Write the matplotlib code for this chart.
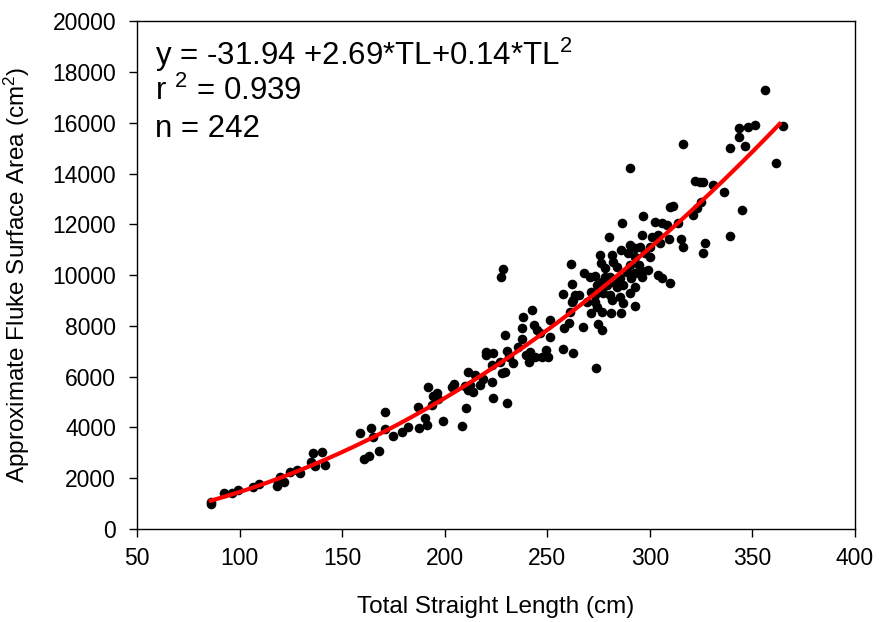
import numpy as np
import matplotlib
matplotlib.use("Agg")
import matplotlib.pyplot as plt

plt.rcParams["font.family"] = ["Liberation Sans", "DejaVu Sans"]
plt.rcParams["mathtext.fontset"] = "custom"
plt.rcParams["mathtext.rm"] = "Liberation Sans"
plt.rcParams["mathtext.it"] = "Liberation Sans:italic"

# total straight length (cm) and approximate fluke surface area (cm^2)
tl = [86.0, 86.3, 92.4, 96.2, 99.4, 106.7, 109.6, 118.1, 118.7, 119.7, 121.6, 124.6, 127.8, 129.5,
      134.8, 135.6, 136.8, 140.0, 141.6, 158.7, 160.5, 163.0, 164.9, 163.9, 168.0, 170.9, 170.9,
      175.0, 179.0, 182.3, 187.1, 187.5, 190.4, 191.2, 191.7, 193.6, 194.4, 196.3, 196.9, 199.3,
      203.4, 204.5, 208.3, 209.9, 210.4, 211.2, 211.5, 212.3, 213.9, 214.8, 217.2, 218.8, 220.1,
      220.1, 222.9, 222.9, 223.4, 223.7, 226.9, 227.3, 227.8, 228.3, 229.4, 229.4, 230.5, 230.5,
      231.4, 233.4, 235.9, 237.5, 237.5, 238.3, 239.9, 241.2, 241.6, 242.4, 243.5, 244.0, 244.8,
      246.5, 247.3, 249.4, 250.5, 251.3, 251.3, 257.8, 257.8, 258.0, 260.7, 261.1, 261.6, 261.9,
      261.9, 262.7, 262.7, 263.5, 265.5, 267.5, 267.9, 269.2, 270.8, 271.6, 271.6, 273.3, 273.3,
      273.3, 273.6, 274.1, 274.1, 274.8, 275.7, 276.0, 276.5, 276.5, 276.8, 277.4, 278.1, 278.1,
      279.0, 280.2, 280.6, 280.6, 280.9, 281.4, 281.4, 282.2, 282.2, 283.8, 283.8, 285.5, 285.5,
      285.8, 285.9, 286.7, 287.0, 287.0, 288.7, 289.5, 290.3, 290.3, 290.3, 290.6, 291.1, 292.8,
      292.8, 292.8, 292.8, 292.9, 294.9, 295.2, 296.0, 296.0, 296.0, 296.8, 297.6, 299.3, 300.1,
      300.1, 300.9, 302.5, 304.1, 304.1, 305.0, 305.8, 305.8, 308.2, 309.5, 309.8, 309.8, 311.1,
      313.8, 315.0, 316.0, 316.0, 321.1, 322.0, 322.8, 324.4, 325.2, 326.1, 326.1, 326.9, 330.9,
      336.3, 339.0, 339.1, 343.3, 343.3, 345.2, 346.4, 348.0, 351.3, 356.3, 361.5, 364.8]
area = [1080, 1000, 1420, 1400, 1530, 1640, 1770, 1690, 1860, 2040, 1850, 2260, 2320, 2200,
        2650, 3000, 2480, 3030, 2520, 3800, 2750, 2880, 3640, 3960, 3080, 4620, 3920,
        3670, 3830, 4030, 4820, 3960, 4360, 4090, 5580, 4880, 5240, 5370, 5110, 4250,
        5580, 5700, 4060, 5640, 4750, 6190, 5470, 5670, 5410, 6060, 5670, 5890, 6980,
        6850, 6460, 5800, 5140, 6940, 6590, 9910, 6130, 10220, 7640, 6190, 7020, 4970,
        6780, 6520, 7180, 7900, 7470, 8330, 6850, 6590, 6980, 8620, 8030, 6780, 7830,
        7700, 6780, 7050, 6780, 8230, 7550, 9250, 7070, 7900, 8120, 8560, 10430, 9630,
        8950, 9020, 6940, 9210, 9210, 7940, 10070, 8950, 9930, 9340, 8490, 9960, 9210,
        8950, 6330, 9610, 8750, 8070, 10790, 10460, 9740, 8530, 7830, 9280, 10260, 9930,
        9610, 11480, 9930, 9210, 8520, 10790, 9020, 10520, 9740, 10330, 9540, 9870, 9150,
        10980, 8520, 12040, 9610, 8890, 10130, 10850, 11180, 10390, 9280, 14230, 9870, 11050,
        10720, 10070, 9540, 8780, 10390, 11110, 11570, 10170, 9930, 12340, 10850, 10200, 11110,
        10720, 11480, 12100, 11570, 10000, 11260, 12060, 9870, 11970, 11440, 12690, 9700, 12720,
        12040, 11440, 15160, 11090, 12360, 13710, 12630, 13680, 12890, 13680, 10880, 11250, 13550,
        13280, 14990, 11540, 15810, 15420, 12560, 15080, 15840, 15900, 17280, 14400, 15870]

eq_text = r"y = -31.94 +2.69*TL+0.14*TL$^{2}$"
r2_text = r"r $^{2}$ = 0.939"
n_text = "n = 242"

tl = np.array(tl)
area = np.array(area)

fig = plt.figure(figsize=(8.84, 6.22), dpi=100)
ax = fig.add_axes([0.155, 0.1495, 0.812, 0.8165])

ax.scatter(tl, area, s=48, color="black", zorder=2, linewidths=0)

coef = np.polyfit(tl, area, 2)
xs = np.linspace(tl.min(), tl.max() - 1.5, 200)
ax.plot(xs, np.polyval(coef, xs), color="#ff0000", lw=3, zorder=3)

ax.set_xlim(50, 400)
ax.set_ylim(0, 20000)
ax.set_xticks(np.arange(50, 401, 50))
ax.set_yticks(np.arange(0, 20001, 2000))
ax.tick_params(axis="both", direction="out", length=6, width=1, labelsize=16.5)
ax.tick_params(axis="x", pad=7)
ax.tick_params(axis="y", pad=9)
for sp in ax.spines.values():
    sp.set_linewidth(1)

ax.set_xlabel("Total Straight Length (cm)", fontsize=17.5)
ax.set_ylabel("Approximate Fluke Surface Area (cm$^{2}$)", fontsize=17.5)
ax.xaxis.set_label_coords(0.5, -0.132)
ax.yaxis.set_label_coords(-0.146, 0.5)

ax.text(0.025, 0.913, eq_text, transform=ax.transAxes, fontsize=22.5, va="baseline")
ax.text(0.025, 0.844, r2_text, transform=ax.transAxes, fontsize=22.5, va="baseline")
ax.text(0.025, 0.772, n_text, transform=ax.transAxes, fontsize=22.5, va="baseline")

fig.savefig("out.png", dpi=100)
